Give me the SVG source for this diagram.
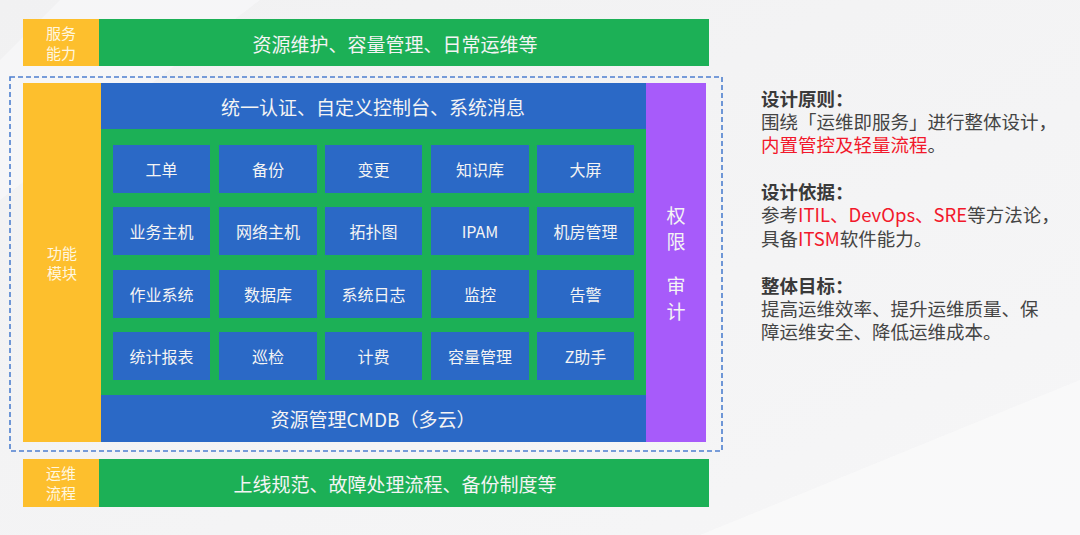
<svg xmlns="http://www.w3.org/2000/svg" width="1080" height="535" viewBox="0 0 1080 535">
<defs>
<linearGradient id="bg" x1="0" y1="0" x2="1" y2="1">
<stop offset="0" stop-color="#f1f1f2"/>
<stop offset="1" stop-color="#f6f6f7"/>
</linearGradient>
</defs>
<style>
.y{fill:#fdbf2d}
.g{fill:#1cb056}
.b{fill:#2b69c6}
.p{fill:#a75bfa}
.t{font-family:"Noto Sans CJK SC","Noto Sans",sans-serif;fill:#f4f4f4;text-anchor:middle;dominant-baseline:central}
.lab{font-size:15px;fill:#fff7e0}
.big{font-size:19px}
.cell{font-size:16px}
.r{font-family:"Noto Sans CJK SC","Noto Sans",sans-serif;font-size:18.5px;fill:#444}
.h{font-weight:bold;fill:#3a3a3a}
.red{fill:#f2182b}
</style>
<rect width="1080" height="535" fill="url(#bg)"/>
<polygon points="0,60 60,0 260,0 0,200" fill="#f8f8f9" opacity="0.7"/>
<polygon points="700,535 1080,380 1080,535" fill="#fafafa" opacity="0.8"/>

<g id="service">
<rect class="y" x="23" y="19" width="76" height="47"/>
<rect class="g" x="99" y="19" width="610" height="47"/>
<text class="t lab" x="61" y="32.5">服务</text>
<text class="t lab" x="61" y="52.5">能力</text>
<text class="t big" x="395" y="43">资源维护、容量管理、日常运维等</text>
</g>

<g id="connectors">
<rect x="10" y="77" width="712" height="374" fill="none" stroke="#4d7fcf" stroke-width="1.6" stroke-dasharray="5,3"/>
</g>

<g id="func">
<rect class="y" x="23" y="83" width="78" height="359"/>
<text class="t lab" x="62" y="252">功能</text>
<text class="t lab" x="62" y="272">模块</text>
</g>

<g id="auth">
<rect class="b" x="101" y="83" width="545" height="46"/>
<text class="t big" x="373" y="106">统一认证、自定义控制台、系统消息</text>
</g>

<g id="modules">
<rect class="g" x="101" y="129" width="545" height="266"/>
<g id="r1">
<rect class="b" x="113" y="145" width="97" height="48"/><text class="t cell" x="161.5" y="169">工单</text>
<rect class="b" x="219" y="145" width="98" height="48"/><text class="t cell" x="268" y="169">备份</text>
<rect class="b" x="325" y="145" width="97" height="48"/><text class="t cell" x="373.5" y="169">变更</text>
<rect class="b" x="431" y="145" width="98" height="48"/><text class="t cell" x="480" y="169">知识库</text>
<rect class="b" x="537" y="145" width="97" height="48"/><text class="t cell" x="585.5" y="169">大屏</text>
</g>
<g id="r2">
<rect class="b" x="113" y="207" width="97" height="48"/><text class="t cell" x="161.5" y="231">业务主机</text>
<rect class="b" x="219" y="207" width="98" height="48"/><text class="t cell" x="268" y="231">网络主机</text>
<rect class="b" x="325" y="207" width="97" height="48"/><text class="t cell" x="373.5" y="231">拓扑图</text>
<rect class="b" x="431" y="207" width="98" height="48"/><text class="t cell" x="480" y="231">IPAM</text>
<rect class="b" x="537" y="207" width="97" height="48"/><text class="t cell" x="585.5" y="231">机房管理</text>
</g>
<g id="r3">
<rect class="b" x="113" y="270" width="97" height="48"/><text class="t cell" x="161.5" y="294">作业系统</text>
<rect class="b" x="219" y="270" width="98" height="48"/><text class="t cell" x="268" y="294">数据库</text>
<rect class="b" x="325" y="270" width="97" height="48"/><text class="t cell" x="373.5" y="294">系统日志</text>
<rect class="b" x="431" y="270" width="98" height="48"/><text class="t cell" x="480" y="294">监控</text>
<rect class="b" x="537" y="270" width="97" height="48"/><text class="t cell" x="585.5" y="294">告警</text>
</g>
<g id="r4">
<rect class="b" x="113" y="332" width="97" height="48"/><text class="t cell" x="161.5" y="356">统计报表</text>
<rect class="b" x="219" y="332" width="98" height="48"/><text class="t cell" x="268" y="356">巡检</text>
<rect class="b" x="325" y="332" width="97" height="48"/><text class="t cell" x="373.5" y="356">计费</text>
<rect class="b" x="431" y="332" width="98" height="48"/><text class="t cell" x="480" y="356">容量管理</text>
<rect class="b" x="537" y="332" width="97" height="48"/><text class="t cell" x="585.5" y="356">Z助手</text>
</g>
</g>

<g id="cmdb">
<rect class="b" x="101" y="395" width="545" height="47"/>
<text class="t big" x="373" y="418">资源管理CMDB（多云）</text>
</g>

<g id="perm">
<rect class="p" x="646" y="83" width="60" height="359"/>
<text class="t big" x="676" y="214">权</text>
<text class="t big" x="676" y="240">限</text>
<text class="t big" x="676" y="284">审</text>
<text class="t big" x="676" y="310">计</text>
</g>

<g id="ops">
<rect class="y" x="23" y="459" width="76" height="48"/>
<rect class="g" x="99" y="459" width="610" height="48"/>
<text class="t lab" x="61" y="472.5">运维</text>
<text class="t lab" x="61" y="492.5">流程</text>
<text class="t big" x="395" y="483">上线规范、故障处理流程、备份制度等</text>
</g>

<g id="notes">
<text class="r h" x="761" y="106">设计原则：</text>
<text class="r" x="761" y="129">围绕「运维即服务」进行整体设计，</text>
<text class="r red" x="761" y="152">内置管控及轻量流程<tspan fill="#444">。</tspan></text>
<text class="r h" x="761" y="199">设计依据：</text>
<text class="r" x="761" y="222">参考<tspan class="red">ITIL、DevOps、SRE</tspan>等方法论，</text>
<text class="r" x="761" y="246">具备<tspan class="red">ITSM</tspan>软件能力。</text>
<text class="r h" x="761" y="293">整体目标：</text>
<text class="r" x="761" y="316">提高运维效率、提升运维质量、保</text>
<text class="r" x="761" y="339">障运维安全、降低运维成本。</text>
</g>
</svg>
